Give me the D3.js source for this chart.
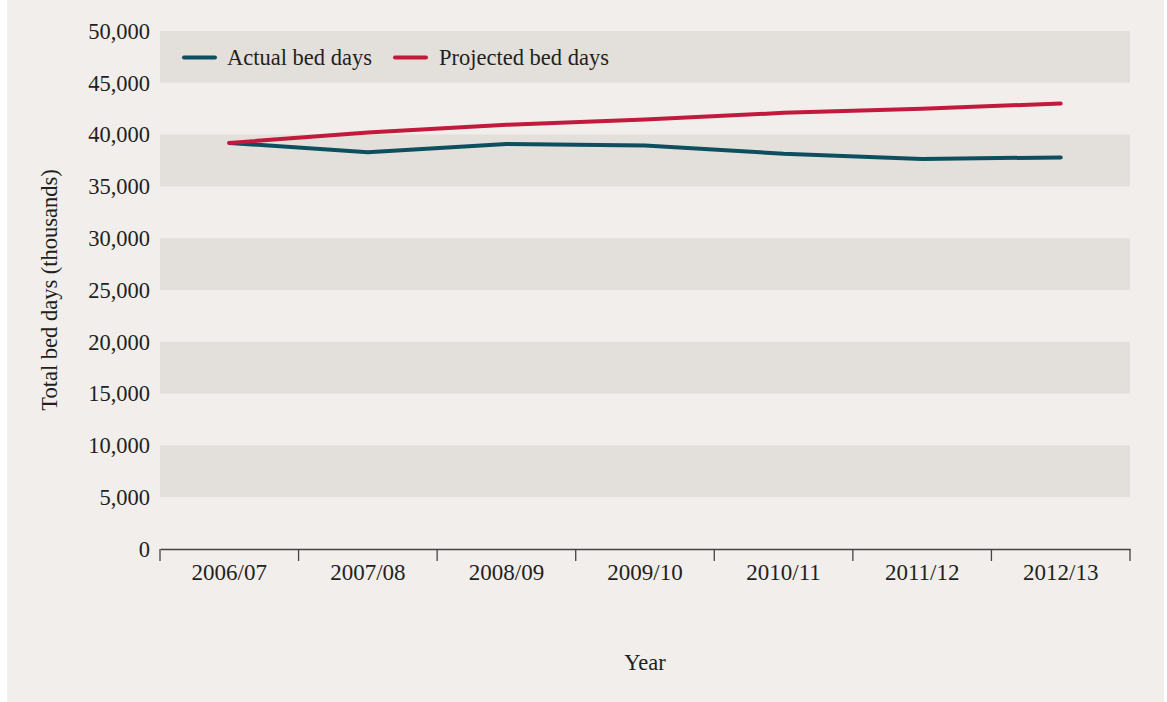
<!DOCTYPE html>
<html>
<head>
<meta charset="utf-8">
<script src="https://cdn.jsdelivr.net/npm/d3@7"></script>
<style>
  html, body { margin: 0; padding: 0; background: #ffffff; }
  svg { display: block; }
  text { font-family: "Liberation Serif", "DejaVu Serif", serif; fill: #231f20; }
</style>
</head>
<body>
<svg id="chart" width="1167" height="702"></svg>
<script>
const categories = ["2006/07", "2007/08", "2008/09", "2009/10", "2010/11", "2011/12", "2012/13"];
const actualBedDays = [39200, 38300, 39100, 38950, 38150, 37650, 37800];
const projectedBedDays = [39200, 40200, 40950, 41450, 42100, 42500, 43000];
const yTicks = [0, 5000, 10000, 15000, 20000, 25000, 30000, 35000, 40000, 45000, 50000];
const seriesNames = ["Actual bed days", "Projected bed days"];
const seriesColors = ["#0d4f5e", "#c11a3d"];

const svg = d3.select("#chart");
const W = 1167, H = 702;
const margin = { left: 160, right: 37, top: 31, bottom: 153 };
const innerW = W - margin.left - margin.right;
const innerH = H - margin.top - margin.bottom;
const FS = "22.5px";

// panel background
svg.append("rect").attr("x", 7).attr("y", 0).attr("width", 1157).attr("height", 702).attr("fill", "#f1eeeb");

const g = svg.append("g").attr("transform", `translate(${margin.left},${margin.top})`);

const x = d3.scaleBand().domain(categories).range([0, innerW]).padding(0);
const y = d3.scaleLinear().domain([0, 50000]).range([innerH, 0]);

// alternating bands
const bandPairs = [];
for (let i = 1; i < yTicks.length; i += 2) bandPairs.push([yTicks[i], yTicks[i + 1]]);
g.selectAll("rect.band").data(bandPairs).join("rect")
  .attr("class", "band")
  .attr("x", 0).attr("width", innerW)
  .attr("y", d => y(d[1])).attr("height", d => y(d[0]) - y(d[1]))
  .attr("fill", "#e3dfda");

// y axis (labels only)
const yAxis = d3.axisLeft(y).tickValues(yTicks).tickFormat(d3.format(",")).tickSize(0).tickPadding(10);
const yG = g.append("g").call(yAxis);
yG.select(".domain").remove();
yG.selectAll("text").style("font-size", FS).attr("fill", "#231f20").attr("font-family", null);

// x axis
const xAxis = d3.axisBottom(x).tickSize(0).tickPadding(15);
const xG = g.append("g").attr("transform", `translate(0,${innerH})`).call(xAxis);
xG.select(".domain").attr("stroke", "#444").attr("stroke-width", 1.3);
xG.selectAll("text").style("font-size", "23px").attr("fill", "#231f20").attr("font-family", null);
// boundary ticks between categories
const bounds = categories.map(c => x(c)).concat([innerW]);
xG.selectAll("line.bt").data(bounds).join("line")
  .attr("class", "bt")
  .attr("x1", d => d).attr("x2", d => d)
  .attr("y1", 0).attr("y2", 12)
  .attr("stroke", "#444").attr("stroke-width", 1.3);

// lines
const line = d3.line().x((d, i) => x(categories[i]) + x.bandwidth() / 2).y(d => y(d));
[actualBedDays, projectedBedDays].forEach((s, i) => {
  g.append("path").datum(s)
    .attr("d", line)
    .attr("fill", "none")
    .attr("stroke", seriesColors[i])
    .attr("stroke-width", 4)
    .attr("stroke-linecap", "round")
    .attr("stroke-linejoin", "round");
});

// legend
const legendItems = [{ x: 24, tx: 67 }, { x: 235, tx: 279 }];
legendItems.forEach((l, i) => {
  const lg = g.append("g").attr("transform", `translate(${l.x},${y(47450)})`);
  lg.append("line").attr("x1", 0).attr("x2", 31).attr("y1", 0).attr("y2", 0)
    .attr("stroke", seriesColors[i]).attr("stroke-width", 4).attr("stroke-linecap", "round");
  lg.append("text").attr("x", l.tx - l.x).attr("y", 0).attr("dy", "0.35em")
    .style("font-size", FS).text(seriesNames[i]);
});

// axis titles
svg.append("text").attr("x", margin.left + innerW / 2).attr("y", 670)
  .attr("text-anchor", "middle").style("font-size", FS).text("Year");
svg.append("text").attr("transform", `translate(57,${margin.top + innerH / 2}) rotate(-90)`)
  .attr("text-anchor", "middle").style("font-size", FS).text("Total bed days (thousands)");
</script>
</body>
</html>
